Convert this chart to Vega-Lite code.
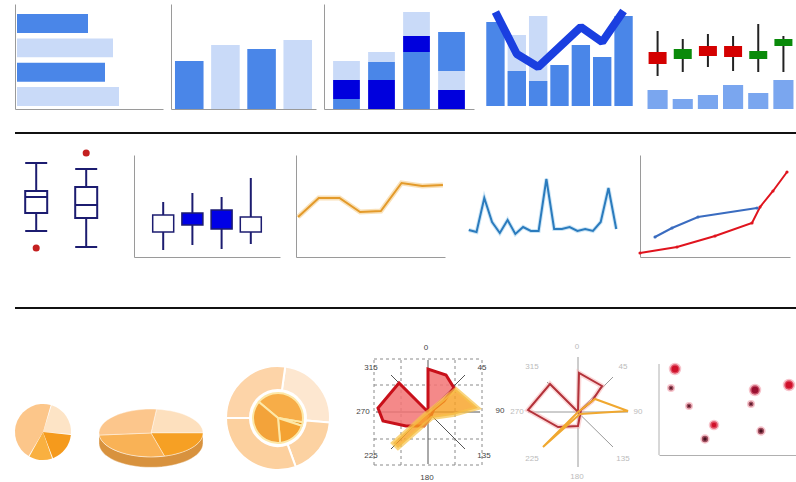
{
"$schema":"https://vega.github.io/schema/vega-lite/v6.json",
"padding":{"left":14,"top":4,"right":0,"bottom":0},
"background":"white",
"spacing":0,
"config":{"view":{"stroke":null},"axis":{"labels":false,"ticks":false,"grid":false,"domainColor":"#9a9a9a","domainWidth":1}},
"resolve":{"scale":{"color":"independent","fill":"independent","shape":"independent","size":"independent","theta":"independent"}},
"vconcat":[
{"bounds":"flush","spacing":8,
 "resolve":{"scale":{"color":"independent","fill":"independent","shape":"independent","size":"independent","theta":"independent"}},
 "hconcat":[
 {"width":148,"height":105,
  "data":{"values":[{"c":"1","s":"A","v":71},{"c":"2","s":"B","v":96},{"c":"3","s":"A","v":88},{"c":"4","s":"B","v":102}]},
  "mark":{"type":"bar"},
  "encoding":{
   "y":{"field":"c","type":"nominal","title":null,"scale":{"paddingInner":0.22,"paddingOuter":0.27,"align":0.77},"axis":{}},
   "x":{"field":"v","type":"quantitative","title":null,"scale":{"domain":[-2,146],"nice":false,"zero":false},"axis":{}},
   "color":{"field":"s","type":"nominal","scale":{"domain":["A","B"],"range":["#4a86e8","#c9daf8"]},"legend":null}}},
 {"width":145,"height":105,
  "data":{"values":[{"c":"1","s":"A","v":48},{"c":"2","s":"B","v":64},{"c":"3","s":"A","v":60},{"c":"4","s":"B","v":69}]},
  "mark":{"type":"bar"},
  "encoding":{
   "x":{"field":"c","type":"nominal","title":null,"scale":{"paddingInner":0.21,"paddingOuter":0.11},"axis":{}},
   "y":{"field":"v","type":"quantitative","title":null,"scale":{"domain":[0,105],"nice":false},"axis":{}},
   "color":{"field":"s","type":"nominal","scale":{"domain":["A","B"],"range":["#4a86e8","#c9daf8"]},"legend":null}}},
 {"width":150,"height":105,
  "data":{"values":[
   {"c":"1","s":"M","v":10,"k":1},{"c":"1","s":"D","v":19,"k":2},{"c":"1","s":"L","v":19,"k":3},
   {"c":"2","s":"D","v":29,"k":1},{"c":"2","s":"M","v":18,"k":2},{"c":"2","s":"L","v":10,"k":3},
   {"c":"3","s":"M","v":57,"k":1},{"c":"3","s":"D","v":16,"k":2},{"c":"3","s":"L","v":24,"k":3},
   {"c":"4","s":"D","v":19,"k":1},{"c":"4","s":"L","v":19,"k":2},{"c":"4","s":"M","v":39,"k":3}]},
  "mark":{"type":"bar"},
  "encoding":{
   "x":{"field":"c","type":"nominal","title":null,"scale":{"paddingInner":0.235,"paddingOuter":0.26},"axis":{}},
   "y":{"field":"v","type":"quantitative","title":null,"stack":"zero","scale":{"domain":[0,105],"nice":false},"axis":{}},
   "color":{"field":"s","type":"nominal","scale":{"domain":["M","D","L"],"range":["#4a86e8","#0000dd","#c9daf8"]},"legend":null},
   "order":{"field":"k","type":"quantitative"}}},
 {"width":155,"height":105,
  "data":{"values":[{"c":"1","v":84,"l":94},{"c":"2","v":35,"t":71,"l":52},{"c":"3","v":25,"t":90,"l":39},{"c":"4","v":41},{"c":"5","v":61,"l":79},{"c":"6","v":49,"l":64},{"c":"7","v":90,"l":95}]},
  "encoding":{"x":{"field":"c","type":"nominal","title":null,"scale":{"paddingInner":0.14,"paddingOuter":0.2},"axis":null}},
  "layer":[
   {"mark":{"type":"bar","color":"#c9daf8"},"encoding":{"y":{"field":"t","type":"quantitative","title":null,"scale":{"domain":[-3,102],"nice":false,"zero":false},"axis":null}}},
   {"mark":{"type":"bar","color":"#4a86e8"},"encoding":{"y":{"field":"v","type":"quantitative"}}},
   {"mark":{"type":"line","color":"#1a3fe0","strokeWidth":8,"strokeJoin":"bevel","invalid":"filter"},"encoding":{"y":{"field":"l","type":"quantitative"}}}
  ]},
 {"width":151,"height":105,
  "data":{"values":[
   {"c":"1","o":57,"cl":45,"h":78,"lo":33,"vol":19,"d":"down"},
   {"c":"2","o":50,"cl":60,"h":70,"lo":37,"vol":10,"d":"up"},
   {"c":"3","o":63,"cl":53,"h":75,"lo":42,"vol":14,"d":"down"},
   {"c":"4","o":63,"cl":52,"h":73,"lo":38,"vol":24,"d":"down"},
   {"c":"5","o":50,"cl":58,"h":85,"lo":37,"vol":16,"d":"up"},
   {"c":"6","o":63,"cl":70,"h":73,"lo":37,"vol":29,"d":"up"}]},
  "encoding":{"x":{"field":"c","type":"nominal","title":null,"scale":{"paddingInner":0.2,"paddingOuter":0.1},"axis":null}},
  "layer":[
   {"mark":{"type":"bar","color":"#7aa6ef"},"encoding":{"y":{"field":"vol","type":"quantitative","title":null,"scale":{"domain":[0,105],"nice":false},"axis":null}}},
   {"mark":{"type":"rule","color":"#222222","strokeWidth":2},"encoding":{"y":{"field":"lo","type":"quantitative"},"y2":{"field":"h"}}},
   {"mark":{"type":"bar","size":18},"encoding":{"y":{"field":"o","type":"quantitative"},"y2":{"field":"cl"},"color":{"field":"d","type":"nominal","scale":{"domain":["down","up"],"range":["#d40000","#0a8a0a"]},"legend":null}}}
  ]}
]},
{"width":781,"height":40,"data":{"values":[{"p":16}]},"mark":{"type":"rule","color":"#111111","strokeWidth":2},"encoding":{"y":{"field":"p","type":"quantitative","scale":{"domain":[0,40],"nice":false},"axis":null}}},
{"bounds":"flush","spacing":16,
 "resolve":{"scale":{"color":"independent","fill":"independent","shape":"independent","size":"independent","theta":"independent"}},
 "hconcat":[
 {"width":103,"height":102,
  "data":{"values":[{"b":"1","lo":26,"q1":44,"med":60,"q3":66,"hi":94},{"b":"2","lo":10,"q1":39,"med":52,"q3":70,"hi":88}]},
  "encoding":{"x":{"field":"b","type":"nominal","title":null,"scale":{"type":"point","domain":["1","2"],"padding":0.53,"align":0.4},"axis":null}},
  "layer":[
   {"mark":{"type":"rule","color":"#1c1c70","strokeWidth":2},"encoding":{"y":{"field":"lo","type":"quantitative","title":null,"scale":{"domain":[0,102],"nice":false},"axis":null},"y2":{"field":"hi"}}},
   {"mark":{"type":"bar","size":22,"fill":"#ffffff","stroke":"#1c1c70","strokeWidth":2},"encoding":{"y":{"field":"q1","type":"quantitative"},"y2":{"field":"q3"}}},
   {"mark":{"type":"tick","size":22,"thickness":2,"color":"#1c1c70","opacity":1},"encoding":{"y":{"field":"med","type":"quantitative"}}},
   {"mark":{"type":"tick","size":22,"thickness":2,"color":"#1c1c70","opacity":1},"encoding":{"y":{"field":"lo","type":"quantitative"}}},
   {"mark":{"type":"tick","size":22,"thickness":2,"color":"#1c1c70","opacity":1},"encoding":{"y":{"field":"hi","type":"quantitative"}}},
   {"data":{"values":[{"b":"1","o":9},{"b":"2","o":104}]},"mark":{"type":"point","filled":true,"size":50,"color":"#c42020","opacity":1},"encoding":{"y":{"field":"o","type":"quantitative"}}}
  ]},
 {"width":146,"height":102,
  "data":{"values":[
   {"c":"1","o":42,"cl":25,"h":55,"lo":7,"k":"open"},
   {"c":"2","o":44,"cl":32,"h":64,"lo":12,"k":"fill"},
   {"c":"3","o":47,"cl":28,"h":60,"lo":8,"k":"fill"},
   {"c":"4","o":40,"cl":25,"h":79,"lo":13,"k":"open"}]},
  "encoding":{"x":{"field":"c","type":"nominal","title":null,"scale":{"type":"point","padding":1.0},"axis":{}}},
  "layer":[
   {"mark":{"type":"rule","color":"#1c1c70","strokeWidth":2},"encoding":{"y":{"field":"lo","type":"quantitative","title":null,"scale":{"domain":[0,102],"nice":false},"axis":{}},"y2":{"field":"h"}}},
   {"mark":{"type":"bar","size":21,"stroke":"#1c1c70","strokeWidth":1.5},"encoding":{"y":{"field":"o","type":"quantitative"},"y2":{"field":"cl"},"fill":{"field":"k","type":"nominal","scale":{"domain":["open","fill"],"range":["#ffffff","#0000e6"]},"legend":null}}}
  ]},
 {"width":149,"height":102,
  "data":{"values":[{"i":1,"v":40},{"i":2,"v":59},{"i":3,"v":59},{"i":4,"v":45},{"i":5,"v":46},{"i":6,"v":74},{"i":7,"v":71},{"i":8,"v":72}]},
  "encoding":{"x":{"field":"i","type":"ordinal","title":null,"scale":{"type":"point","padding":0.1},"axis":{}},"y":{"field":"v","type":"quantitative","title":null,"scale":{"domain":[0,102],"nice":false},"axis":{}}},
  "layer":[{"mark":{"type":"line","color":"#f5cd8a","strokeWidth":5,"opacity":0.6}},{"mark":{"type":"line","color":"#e39a2a","strokeWidth":2}}]},
 {"width":163,"height":102,
  "data":{"values":[{"i":1,"v":27},{"i":2,"v":25},{"i":3,"v":59},{"i":4,"v":35},{"i":5,"v":24},{"i":6,"v":37},{"i":7,"v":23},{"i":8,"v":30},{"i":9,"v":26},{"i":10,"v":26},{"i":11,"v":78},{"i":12,"v":28},{"i":13,"v":28},{"i":14,"v":30},{"i":15,"v":26},{"i":16,"v":28},{"i":17,"v":26},{"i":18,"v":35},{"i":19,"v":69},{"i":20,"v":28}]},
  "encoding":{"x":{"field":"i","type":"ordinal","title":null,"scale":{"type":"point","padding":1.3},"axis":null},"y":{"field":"v","type":"quantitative","title":null,"scale":{"domain":[0,102],"nice":false},"axis":null}},
  "layer":[{"mark":{"type":"line","color":"#a9d3f0","strokeWidth":4,"opacity":0.6}},{"mark":{"type":"line","color":"#2b7bbd","strokeWidth":2}}]},
 {"width":150,"height":102,
  "data":{"values":[
   {"s":"r","x":0,"y":4},{"s":"r","x":37,"y":10},{"s":"r","x":75,"y":21},{"s":"r","x":112,"y":34},{"s":"r","x":120,"y":50},{"s":"r","x":133,"y":66},{"s":"r","x":147,"y":85},
   {"s":"b","x":15,"y":20},{"s":"b","x":32,"y":29},{"s":"b","x":58,"y":40},{"s":"b","x":117,"y":49}]},
  "encoding":{
   "x":{"field":"x","type":"quantitative","title":null,"scale":{"domain":[0,150],"nice":false},"axis":{}},
   "y":{"field":"y","type":"quantitative","title":null,"scale":{"domain":[0,102],"nice":false},"axis":{}},
   "color":{"field":"s","type":"nominal","scale":{"domain":["r","b"],"range":["#e0141e","#3a6cc0"]},"legend":null}},
  "layer":[{"mark":{"type":"line","strokeWidth":2}},{"mark":{"type":"point","filled":true,"size":10,"opacity":1}}]}
]},
{"width":781,"height":83,"data":{"values":[{"p":32}]},"mark":{"type":"rule","color":"#111111","strokeWidth":2},"encoding":{"y":{"field":"p","type":"quantitative","scale":{"domain":[0,83],"nice":false},"axis":null}}},
{"bounds":"flush","spacing":0,
 "resolve":{"scale":{"color":"independent","fill":"independent","shape":"independent","size":"independent","theta":"independent"}},
 "hconcat":[
 {"width":56,"height":184,
  "data":{"values":[{"s":"a","v":78,"k":1},{"s":"b","v":65,"k":2},{"s":"c","v":50,"k":3},{"s":"d","v":167,"k":4}]},
  "mark":{"type":"arc","outerRadius":28,"padAngle":0.035},
  "encoding":{
   "theta":{"field":"v","type":"quantitative","stack":true,"scale":{"range":[0.297,6.580]}},
   "color":{"field":"s","type":"nominal","scale":{"domain":["a","b","c","d"],"range":["#fde4c6","#f59a1c","#f9b040","#fcc68a"]},"legend":null},
   "order":{"field":"k","type":"quantitative"}}},
 {"width":160,"height":186,
  "data":{"values":[{"s":"side"},{"s":"a","v":84},{"s":"b","v":75},{"s":"c","v":100},{"s":"d","v":101}]},
  "mark":{"type":"point","filled":true,"opacity":1,"size":10816,"stroke":"#ffffff","strokeWidth":0.4},
  "encoding":{
   "shape":{"field":"s","type":"nominal","scale":{"domain":["side","a","b","c","d"],"range":[
     "M-1,0A1,0.46 0 0,0 1,0L1,0.2A1,0.46 0 0,1 -1,0.2Z",
     "M0,0L0.105,-0.457A1,0.46 0 0,1 1,0Z",
     "M0,0L1,0A1,0.46 0 0,1 0.259,0.444Z",
     "M0,0L0.259,0.444A1,0.46 0 0,1 -0.996,0.04Z",
     "M0,0L-0.996,0.04A1,0.46 0 0,1 0.105,-0.457Z"]},"legend":null},
   "color":{"field":"s","type":"nominal","scale":{"domain":["side","a","b","c","d"],"range":["#d8923e","#fde0be","#f6a024","#f9b256","#fcc68c"]},"legend":null}}},
 {"width":94,"height":156,
  "layer":[
   {"data":{"values":[{"s":"o1","v":87,"k":1},{"s":"o2","v":65,"k":2},{"s":"o3","v":110,"k":3},{"s":"o4","v":98,"k":4}]},
    "mark":{"type":"arc","innerRadius":28,"outerRadius":52,"stroke":"#ffffff","strokeWidth":2},
    "encoding":{"theta":{"field":"v","type":"quantitative","stack":true,"scale":{"range":[0.14,6.423]}},
     "color":{"field":"s","type":"nominal","scale":{"domain":["o1","o2","o3","o4","i1","i2","i3","i4"],"range":["#fde7d0","#fcd2a2","#fcd09e","#fdd4a8","#f7ad48","#e38a12","#f4a232","#f3a33a"]},"legend":null},
     "order":{"field":"k","type":"quantitative"}}},
   {"data":{"values":[{"s":"i1","v":150,"k":1},{"s":"i2","v":8,"k":2},{"s":"i3","v":67,"k":3},{"s":"i4","v":135,"k":4}]},
    "mark":{"type":"arc","outerRadius":25,"stroke":"#fde8a8","strokeWidth":2},
    "encoding":{"theta":{"field":"v","type":"quantitative","stack":true,"scale":{"range":[5.411,11.694]}},
     "color":{"field":"s","type":"nominal","legend":null},
     "order":{"field":"k","type":"quantitative"}}}
  ],
  "resolve":{"scale":{"theta":"independent"}}},
 {"width":28,"height":10,"data":{"values":[{}]},"mark":{"type":"point","opacity":0}},
 {"width":150,"height":144,
  "layer":[
   {"data":{"values":[
     {"x":-54,"x2":-54,"y":-53,"y2":53},{"x":-27,"x2":-27,"y":-53,"y2":53},{"x":27,"x2":27,"y":-53,"y2":53},{"x":54,"x2":54,"y":-53,"y2":53},
     {"x":-54,"x2":54,"y":-53,"y2":-53},{"x":-54,"x2":54,"y":-27,"y2":-27},{"x":-54,"x2":54,"y":27,"y2":27},{"x":-54,"x2":54,"y":53,"y2":53}]},
    "mark":{"type":"rule","color":"#8a8a8a","strokeDash":[3,3],"strokeWidth":1},
    "encoding":{"x":{"field":"x","type":"quantitative","title":null,"scale":{"domain":[-75,75],"nice":false,"zero":false},"axis":null},"x2":{"field":"x2"},
     "y":{"field":"y","type":"quantitative","title":null,"scale":{"domain":[-72,72],"nice":false,"zero":false},"axis":null},"y2":{"field":"y2"}}},
   {"data":{"values":[{"x":0,"x2":0,"y":-52,"y2":52},{"x":-52,"x2":52,"y":0,"y2":0},{"x":-37,"x2":37,"y":37,"y2":-37},{"x":-37,"x2":37,"y":-37,"y2":37}]},
    "mark":{"type":"rule","color":"#555555","strokeWidth":1},
    "encoding":{"x":{"field":"x","type":"quantitative"},"x2":{"field":"x2"},"y":{"field":"y","type":"quantitative"},"y2":{"field":"y2"}}},
   {"data":{"values":[{"k":1,"x":0,"y":0},{"k":2,"x":0,"y":43},{"k":3,"x":18,"y":37},{"k":4,"x":26,"y":24},{"k":5,"x":16,"y":11},{"k":6,"x":6,"y":3},{"k":7,"x":2,"y":-6},{"k":8,"x":-4,"y":-14},{"k":9,"x":-22,"y":-14},{"k":10,"x":-45,"y":-9},{"k":11,"x":-50,"y":4},{"k":12,"x":-29,"y":29}]},
    "mark":{"type":"line","interpolate":"linear-closed","fill":"#f27474","fillOpacity":0.85,"stroke":"#c8101a","strokeWidth":3},
    "encoding":{"x":{"field":"x","type":"quantitative"},"y":{"field":"y","type":"quantitative"},"order":{"field":"k","type":"quantitative"}}},
   {"data":{"values":[{"k":1,"x":0,"y":0},{"k":2,"x":28,"y":23},{"k":3,"x":50,"y":4},{"k":4,"x":25,"y":-3},{"k":5,"x":4,"y":-6},{"k":6,"x":-30,"y":-36},{"k":7,"x":-35,"y":-31},{"k":8,"x":-3,"y":-2}]},
    "mark":{"type":"line","interpolate":"linear-closed","fill":"#f7a020","fillOpacity":0.8,"stroke":"#f6c34a","strokeWidth":4,"strokeOpacity":0.7},
    "encoding":{"x":{"field":"x","type":"quantitative"},"y":{"field":"y","type":"quantitative"},"order":{"field":"k","type":"quantitative"}}},
   {"data":{"values":[{"t":"0","x":-2,"y":64},{"t":"45","x":54,"y":44},{"t":"90","x":72,"y":1},{"t":"135","x":56,"y":-44},{"t":"180","x":-1,"y":-66},{"t":"225","x":-57,"y":-44},{"t":"270","x":-65,"y":0},{"t":"315","x":-57,"y":44}]},
    "mark":{"type":"text","fontSize":8,"color":"#444444"},
    "encoding":{"x":{"field":"x","type":"quantitative"},"y":{"field":"y","type":"quantitative"},"text":{"field":"t"}}}
  ]},
 {"width":150,"height":144,
  "layer":[
   {"data":{"values":[{"x":0,"x2":0,"y":-55,"y2":55},{"x":-50,"x2":50,"y":0,"y2":0},{"x":-31,"x2":35,"y":30,"y2":-35},{"x":0,"x2":35,"y":0,"y2":35}]},
    "mark":{"type":"rule","color":"#9a9a9a","strokeWidth":1},
    "encoding":{"x":{"field":"x","type":"quantitative","title":null,"scale":{"domain":[-75,75],"nice":false,"zero":false},"axis":null},"x2":{"field":"x2"},
     "y":{"field":"y","type":"quantitative","title":null,"scale":{"domain":[-72,72],"nice":false,"zero":false},"axis":null},"y2":{"field":"y2"}}},
   {"data":{"values":[{"k":1,"x":0,"y":0},{"k":2,"x":1,"y":39},{"k":3,"x":24,"y":26},{"k":4,"x":14,"y":11},{"k":5,"x":3,"y":2},{"k":6,"x":0,"y":-14},{"k":7,"x":-20,"y":-15},{"k":8,"x":-50,"y":2},{"k":9,"x":-28,"y":28}]},
    "mark":{"type":"line","interpolate":"linear-closed","stroke":"#f7b0b0","strokeWidth":5,"strokeOpacity":0.5},
    "encoding":{"x":{"field":"x","type":"quantitative"},"y":{"field":"y","type":"quantitative"},"order":{"field":"k","type":"quantitative"}}},
   {"data":{"values":[{"k":1,"x":0,"y":0},{"k":2,"x":1,"y":39},{"k":3,"x":24,"y":26},{"k":4,"x":14,"y":11},{"k":5,"x":3,"y":2},{"k":6,"x":0,"y":-14},{"k":7,"x":-20,"y":-15},{"k":8,"x":-50,"y":2},{"k":9,"x":-28,"y":28}]},
    "mark":{"type":"line","interpolate":"linear-closed","stroke":"#b3323a","strokeWidth":2},
    "encoding":{"x":{"field":"x","type":"quantitative"},"y":{"field":"y","type":"quantitative"},"order":{"field":"k","type":"quantitative"}}},
   {"data":{"values":[{"k":1,"x":0,"y":0},{"k":2,"x":17,"y":13},{"k":3,"x":50,"y":1},{"k":4,"x":2,"y":-2},{"k":5,"x":-35,"y":-35}]},
    "mark":{"type":"line","interpolate":"linear-closed","stroke":"#f0a830","strokeWidth":2},
    "encoding":{"x":{"field":"x","type":"quantitative"},"y":{"field":"y","type":"quantitative"},"order":{"field":"k","type":"quantitative"}}},
   {"data":{"values":[{"t":"0","x":-1,"y":65},{"t":"45","x":45,"y":45},{"t":"90","x":60,"y":0},{"t":"135","x":45,"y":-47},{"t":"180","x":-1,"y":-65},{"t":"225","x":-46,"y":-47},{"t":"270","x":-61,"y":0},{"t":"315","x":-46,"y":45}]},
    "mark":{"type":"text","fontSize":8,"color":"#bbbbbb"},
    "encoding":{"x":{"field":"x","type":"quantitative"},"y":{"field":"y","type":"quantitative"},"text":{"field":"t"}}}
  ]},
 {"width":6,"height":10,"data":{"values":[{}]},"mark":{"type":"point","opacity":0}},
 {"width":137,"height":115,
  "data":{"values":[
   {"x":16,"y":86,"z":3,"c":"r"},{"x":12,"y":67,"z":1,"c":"d"},{"x":30,"y":49,"z":1,"c":"d"},{"x":55,"y":30,"z":2,"c":"r"},{"x":46,"y":16,"z":1.5,"c":"d"},
   {"x":96,"y":65,"z":3,"c":"m"},{"x":92,"y":51,"z":1,"c":"d"},{"x":102,"y":24,"z":1.5,"c":"d"},{"x":130,"y":70,"z":3,"c":"r"}]},
  "encoding":{
   "x":{"field":"x","type":"quantitative","title":null,"scale":{"domain":[0,137],"nice":false},"axis":{"domainColor":"#b0b0b0"}},
   "y":{"field":"y","type":"quantitative","title":null,"scale":{"domain":[0,115],"nice":false},"axis":{"domain":false}}},
  "layer":[
   {"data":{"values":[{"x":0,"y":0,"y2":91}]},"mark":{"type":"rule","color":"#b0b0b0","strokeWidth":1},"encoding":{"y2":{"field":"y2"}}},
   {"mark":{"type":"point","filled":true,"opacity":1,"stroke":"#f08a9a","strokeWidth":3,"strokeOpacity":0.5},
    "encoding":{
     "size":{"field":"z","type":"quantitative","scale":{"domain":[1,3],"range":[25,90]},"legend":null},
     "color":{"field":"c","type":"nominal","scale":{"domain":["r","d","m"],"range":["#d0102a","#4a1020","#9a1030"]},"legend":null}}}
  ]}
]}
]
}
